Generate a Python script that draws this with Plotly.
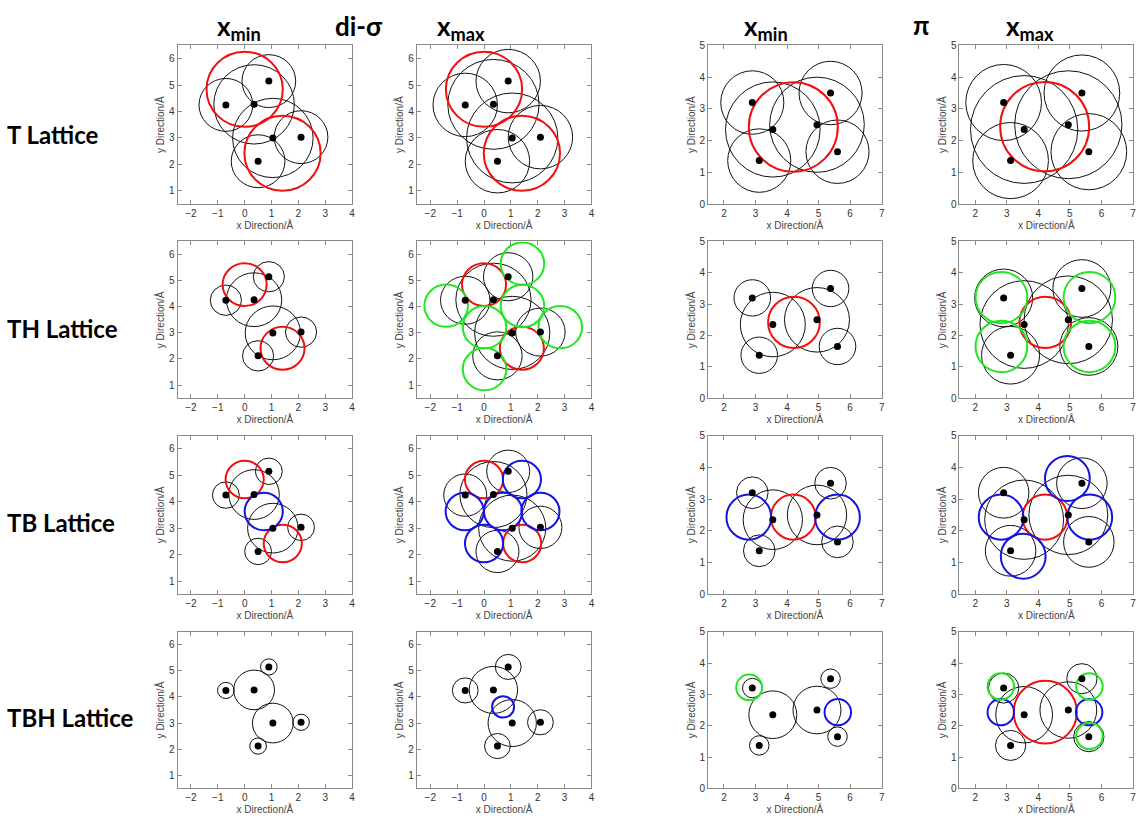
import plotly.graph_objects as go

# ---------------- data ----------------
# atom positions (di-sigma and pi adsorption geometries)
DS_X = [-0.7, 0.35, 0.9, 1.05, 2.1, 0.5]
DS_Y = [4.25, 4.27, 5.15, 3.0, 3.03, 2.12]
PI_X = [2.9, 3.55, 3.12, 4.95, 5.38, 5.6]
PI_Y = [3.2, 2.35, 1.37, 2.5, 3.5, 1.65]
ATOM_KIND = ["H", "C", "H", "C", "H", "H"]

ROW_LABELS = ["T Lattice", "TH Lattice", "TB Lattice", "TBH Lattice"]

# atom radii per lattice row
R_C_MIN = [1.5, 1.03, 0.94, 0.76]
R_H_MIN = [1.0, 0.58, 0.5, 0.31]
R_C_MAX = [1.7, 1.4, 1.25, 0.9]
R_H_MAX = [1.2, 0.92, 0.8, 0.48]

# lattice site circles: (colour, x, y, radius)
SITES_T_DS_MIN = [("red", 0.0, 4.84, 1.42), ("red", 1.41, 2.42, 1.42)]
SITES_T_DS_MAX = [("red", 0.0, 4.84, 1.42), ("red", 1.41, 2.42, 1.42)]
SITES_T_PI_MIN = [("red", 4.2, 2.43, 1.41)]
SITES_T_PI_MAX = [("red", 4.2, 2.44, 1.41)]

SITES_TH_DS_MIN = [("red", 0.0, 4.85, 0.82), ("red", 1.41, 2.41, 0.82)]
SITES_TH_DS_MAX = [("red", 0.0, 4.85, 0.82), ("red", 1.41, 2.41, 0.82),
                   ("green", 1.43, 5.65, 0.81), ("green", -1.41, 4.04, 0.81),
                   ("green", 1.43, 4.03, 0.81), ("green", 0.02, 3.22, 0.81),
                   ("green", 2.84, 3.22, 0.81), ("green", 0.02, 1.61, 0.81)]
SITES_TH_PI_MIN = [("red", 4.22, 2.42, 0.82)]
SITES_TH_PI_MAX = [("red", 4.22, 2.42, 0.82),
                   ("green", 2.83, 3.21, 0.82), ("green", 2.83, 1.65, 0.82),
                   ("green", 5.62, 3.21, 0.82), ("green", 5.62, 1.65, 0.82)]

SITES_TB_DS_MIN = [("red", 0.0, 4.84, 0.71), ("red", 1.42, 2.42, 0.71),
                   ("blue", 0.71, 3.63, 0.71)]
SITES_TB_DS_MAX = [("red", 0.0, 4.84, 0.71), ("red", 1.42, 2.42, 0.71),
                   ("blue", 1.41, 4.84, 0.71), ("blue", -0.72, 3.63, 0.71),
                   ("blue", 0.71, 3.63, 0.71), ("blue", 2.1, 3.63, 0.71),
                   ("blue", 0.0, 2.42, 0.71)]
SITES_TB_PI_MIN = [("red", 4.2, 2.43, 0.71), ("blue", 2.79, 2.43, 0.71),
                   ("blue", 5.6, 2.43, 0.71)]
SITES_TB_PI_MAX = [("red", 4.21, 2.43, 0.71), ("blue", 2.82, 2.43, 0.71),
                   ("blue", 5.63, 2.43, 0.71), ("blue", 4.92, 3.65, 0.71),
                   ("blue", 3.52, 1.2, 0.71)]

SITES_TBH_DS_MIN = []
SITES_TBH_DS_MAX = [("blue", 0.71, 3.62, 0.41)]
SITES_TBH_PI_MIN = [("green", 2.8, 3.22, 0.41), ("blue", 5.61, 2.43, 0.42)]
SITES_TBH_PI_MAX = [("red", 4.22, 2.43, 1.0),
                    ("blue", 2.81, 2.43, 0.42), ("blue", 5.61, 2.43, 0.42),
                    ("green", 2.81, 3.25, 0.42), ("green", 5.62, 3.25, 0.42),
                    ("green", 5.62, 1.67, 0.42)]

SITES = [
    [SITES_T_DS_MIN, SITES_T_DS_MAX, SITES_T_PI_MIN, SITES_T_PI_MAX],
    [SITES_TH_DS_MIN, SITES_TH_DS_MAX, SITES_TH_PI_MIN, SITES_TH_PI_MAX],
    [SITES_TB_DS_MIN, SITES_TB_DS_MAX, SITES_TB_PI_MIN, SITES_TB_PI_MAX],
    [SITES_TBH_DS_MIN, SITES_TBH_DS_MAX, SITES_TBH_PI_MIN, SITES_TBH_PI_MAX],
]

DS_XRANGE = [-2.5, 4]
DS_YRANGE = [0.5, 6.5]
PI_XRANGE = [1.5, 7]
PI_YRANGE = [0, 5]

# ---------------- layout geometry (pixels) ----------------
W, H = 1137, 818
COL_PX = [(178, 353), (418, 593), (710, 884), (962, 1136)]
ROW_PX = [(40, 201), (239, 398), (436, 597), (635, 794)]

COLORS = {"red": "#f01010", "green": "#22e622", "blue": "#1414e0"}

fig = go.Figure()
shapes = []
layout_axes = {}

axis_common = dict(
    showline=True, linecolor="#8a8a8a", linewidth=1, mirror="ticks",
    ticks="inside", ticklen=4, tickcolor="#8a8a8a", tickwidth=1,
    showgrid=False, zeroline=False,
    tickfont=dict(family="Liberation Sans, Arial", size=10, color="#333333"),
)

idx = 0
for r in range(4):
    for c in range(4):
        idx += 1
        sfx = "" if idx == 1 else str(idx)
        xa, ya = "x" + sfx, "y" + sfx
        is_ds = c < 2
        is_min = c % 2 == 0
        ax_x = DS_X if is_ds else PI_X
        ax_y = DS_Y if is_ds else PI_Y
        rc = R_C_MIN[r] if is_min else R_C_MAX[r]
        rh = R_H_MIN[r] if is_min else R_H_MAX[r]

        x0p, x1p = COL_PX[c]
        y0p, y1p = ROW_PX[r]
        layout_axes["xaxis" + sfx] = dict(
            axis_common, domain=[x0p / W, x1p / W], anchor=ya,
            range=DS_XRANGE if is_ds else PI_XRANGE, dtick=1, tick0=0,
            title=dict(text="x Direction/Å", standoff=2,
                       font=dict(family="Liberation Sans, Arial", size=10, color="#444444")),
        )
        layout_axes["yaxis" + sfx] = dict(
            axis_common, domain=[1 - y1p / H, 1 - y0p / H], anchor=xa,
            range=DS_YRANGE if is_ds else PI_YRANGE, dtick=1, tick0=0,
            title=dict(text="y Direction/Å", standoff=2,
                       font=dict(family="Liberation Sans, Arial", size=10, color="#444444")),
        )

        # atom circles
        for ax_, ay_, kind in zip(ax_x, ax_y, ATOM_KIND):
            rad = rc if kind == "C" else rh
            shapes.append(dict(type="circle", xref=xa, yref=ya, layer="below",
                               x0=ax_ - rad, x1=ax_ + rad, y0=ay_ - rad, y1=ay_ + rad,
                               line=dict(color="#111111", width=1)))
        # lattice site circles
        for col, sx, sy, sr in SITES[r][c]:
            shapes.append(dict(type="circle", xref=xa, yref=ya, layer="below",
                               x0=sx - sr, x1=sx + sr, y0=sy - sr, y1=sy + sr,
                               line=dict(color=COLORS[col], width=2)))
        # atoms
        fig.add_trace(go.Scatter(x=ax_x, y=ax_y, xaxis=xa, yaxis=ya, mode="markers",
                                 marker=dict(size=7, color="black"),
                                 showlegend=False, hoverinfo="skip"))

TITLE_FONT = dict(family="Lato, Open Sans, sans-serif", size=26, color="black")
annotations = []
col_titles = [
    ("<b>x<sub>min</sub></b>", 240, 22),
    ("<b>di-σ</b>", 360, 20),
    ("<b>x<sub>max</sub></b>", 462, 22),
    ("<b>x<sub>min</sub></b>", 768, 22),
    ("<b>π</b>", 923, 19),
    ("<b>x<sub>max</sub></b>", 1033, 22),
]
for txt, px, py in col_titles:
    annotations.append(dict(text=txt, x=px / W, y=1 - py / H, xref="paper", yref="paper",
                            xanchor="center", yanchor="middle", showarrow=False,
                            font=TITLE_FONT))
ROW_Y = [130, 327, 524, 722]
for lab, py in zip(ROW_LABELS, ROW_Y):
    annotations.append(dict(text="<b>" + lab + "</b>", x=5 / W, y=1 - py / H,
                            xref="paper", yref="paper", xanchor="left", yanchor="middle",
                            showarrow=False,
                            font=dict(family="Lato, Open Sans, sans-serif", size=24, color="black")))

fig.update_layout(
    width=W, height=H, margin=dict(l=0, r=0, t=0, b=0),
    paper_bgcolor="white", plot_bgcolor="white",
    shapes=shapes, annotations=annotations, showlegend=False,
    **layout_axes,
)

fig.write_html("out.html", config={"displayModeBar": False},
               post_script="document.body.style.margin='0';document.body.style.overflow='hidden';")
